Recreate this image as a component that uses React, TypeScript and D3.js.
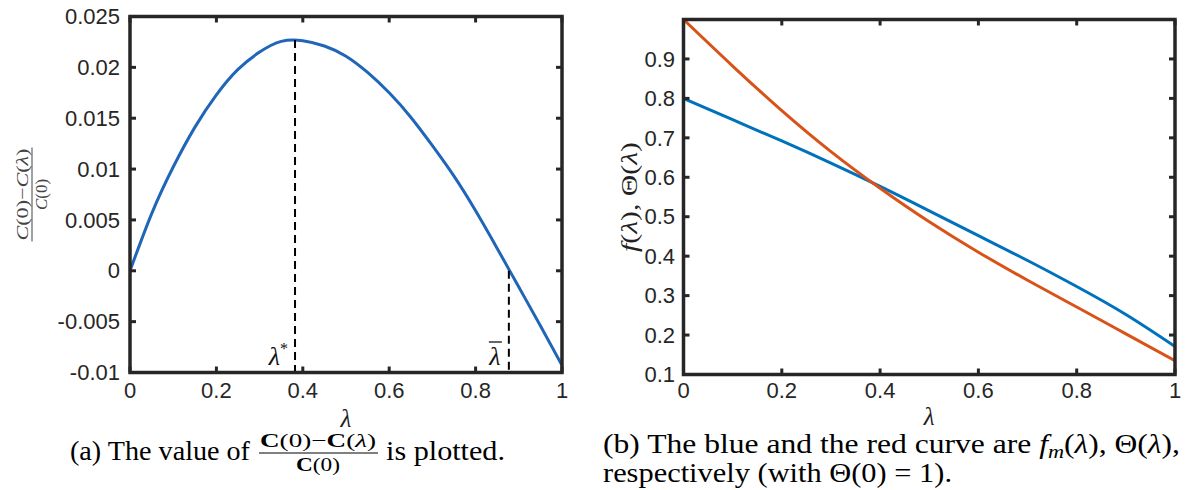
import React from "react";
import * as d3 from "d3";

// ---------- data ----------
// Panel (a): relative cost reduction (C(0) - C(λ)) / C(0)
const lambdaA = [0, 0.05, 0.1, 0.15, 0.2, 0.25, 0.3, 0.35, 0.4, 0.45, 0.5, 0.55, 0.6, 0.65, 0.7, 0.75, 0.8, 0.85, 0.9, 0.95, 1.0];
const gainA = [0, 0.0056, 0.0102, 0.0141, 0.0173, 0.0198, 0.0215, 0.02255, 0.02262, 0.0221, 0.0211, 0.0195, 0.0175, 0.0151, 0.0123, 0.0093, 0.0059, 0.0022, -0.0016, -0.0054, -0.0093];
const lambdaStar = 0.382;
const lambdaStarValue = 0.0227;
const lambdaBar = 0.877;
const yTicksA = [-0.01, -0.005, 0, 0.005, 0.01, 0.015, 0.02, 0.025];
const yTickLabelsA = ["-0.01", "-0.005", "0", "0.005", "0.01", "0.015", "0.02", "0.025"];
const xTicks = [0, 0.2, 0.4, 0.6, 0.8, 1];
const xTickLabels = ["0", "0.2", "0.4", "0.6", "0.8", "1"];

// Panel (b): f_m(λ) (blue) and Θ(λ) (red)
const lambdaB = [0, 0.1, 0.2, 0.3, 0.4, 0.5, 0.6, 0.7, 0.8, 0.9, 1.0];
const fValues = [0.8, 0.746, 0.692, 0.636, 0.577, 0.515, 0.452, 0.389, 0.323, 0.252, 0.171];
const thetaValues = [1.0, 0.882, 0.769, 0.665, 0.572, 0.487, 0.41, 0.339, 0.271, 0.203, 0.135];
const yTicksB = [0.1, 0.2, 0.3, 0.4, 0.5, 0.6, 0.7, 0.8, 0.9];
const yTickLabelsB = ["0.1", "0.2", "0.3", "0.4", "0.5", "0.6", "0.7", "0.8", "0.9"];

// ---------- styling ----------
const AXIS = "#262626";
const BLUE_A = "#1f66b8";
const BLUE = "#0072BD";
const RED = "#D95319";
const SANS = "'Liberation Sans', Arial, Helvetica, sans-serif";
const SERIF = "'Liberation Serif', 'Times New Roman', serif";
const TICK_FS = 22;
const TICK_LEN = 6;
const CAP_FS = 27;

function Frame({ x, y, xTickVals, yTickVals }: any) {
  const [x0, x1] = x.range();
  const [yb, yt] = y.range();
  return (
    <g>
      {xTickVals.map((v: number, i: number) => (
        <g key={"xt" + i}>
          <line x1={x(v)} x2={x(v)} y1={yb} y2={yb - TICK_LEN} stroke={AXIS} strokeWidth={3} />
          <line x1={x(v)} x2={x(v)} y1={yt} y2={yt + TICK_LEN} stroke={AXIS} strokeWidth={3} />
        </g>
      ))}
      {yTickVals.map((v: number, i: number) => (
        <g key={"yt" + i}>
          <line x1={x0} x2={x0 + TICK_LEN} y1={y(v)} y2={y(v)} stroke={AXIS} strokeWidth={3} />
          <line x1={x1} x2={x1 - TICK_LEN} y1={y(v)} y2={y(v)} stroke={AXIS} strokeWidth={3} />
        </g>
      ))}
      <rect x={x0} y={yt} width={x1 - x0} height={yb - yt} fill="none" stroke={AXIS} strokeWidth={3.5} />
    </g>
  );
}

export default function App() {
  // Panel (a) scales
  const xA = d3.scaleLinear().domain([0, 1]).range([130, 562]);
  const yA = d3.scaleLinear().domain([-0.01, 0.025]).range([372.5, 16.5]);
  const lineA = d3
    .line<number>()
    .x((_, i) => xA(lambdaA[i]))
    .y((d) => yA(d))
    .curve(d3.curveNatural);

  // Panel (b) scales
  const xB = d3.scaleLinear().domain([0, 1]).range([683.5, 1175]);
  const yB = d3.scaleLinear().domain([0.1, 1.0]).range([374.5, 19.5]);
  const lineB = d3
    .line<number>()
    .x((_, i) => xB(lambdaB[i]))
    .y((d) => yB(d))
    .curve(d3.curveNatural);

  return (
    <svg
      width={1185}
      height={490}
      style={{ position: "absolute", left: 0, top: 0, background: "#fff" }}
    >
      <rect x={0} y={0} width={1185} height={490} fill="#fff" />
      <defs>
        <clipPath id="clipA">
          <rect x={130} y={16.5} width={432} height={356} />
        </clipPath>
        <clipPath id="clipB">
          <rect x={683.5} y={19.5} width={491.5} height={355} />
        </clipPath>
      </defs>

      {/* ---------------- Panel (a) ---------------- */}
      <g clipPath="url(#clipA)">
        <path d={lineA(gainA) || ""} fill="none" stroke={BLUE_A} strokeWidth={3} />
      </g>
      <line
        x1={xA(lambdaStar)}
        x2={xA(lambdaStar)}
        y1={yA(lambdaStarValue)}
        y2={yA(-0.01)}
        stroke="#000"
        strokeWidth={2}
        strokeDasharray="8,5"
      />
      <line
        x1={xA(lambdaBar)}
        x2={xA(lambdaBar)}
        y1={yA(0)}
        y2={yA(-0.01)}
        stroke="#000"
        strokeWidth={2}
        strokeDasharray="8,5"
      />
      <Frame x={xA} y={yA} xTickVals={xTicks} yTickVals={yTicksA} />
      {yTicksA.map((v, i) => (
        <text key={"yla" + i} x={120} y={yA(v)} dy="0.35em" textAnchor="end" fontFamily={SANS} fontSize={TICK_FS} fill={AXIS}>
          {yTickLabelsA[i]}
        </text>
      ))}
      {xTicks.map((v, i) => (
        <text key={"xla" + i} x={xA(v)} y={398} textAnchor="middle" fontFamily={SANS} fontSize={TICK_FS} fill={AXIS}>
          {xTickLabels[i]}
        </text>
      ))}
      {/* λ* and λ̄ annotations */}
      <text x={xA(lambdaStar) - 7} y={365} textAnchor="end" fontFamily={SERIF} fontSize={26} fill="#111">
        <tspan fontStyle="italic">λ</tspan>
        <tspan fontSize={16} dy={-11}>*</tspan>
      </text>
      <text x={xA(lambdaBar) - 14} y={365} textAnchor="middle" fontFamily={SERIF} fontSize={26} fontStyle="italic" fill="#111">
        λ
      </text>
      <line x1={xA(lambdaBar) - 20} x2={xA(lambdaBar) - 7} y1={342} y2={342} stroke="#111" strokeWidth={1.3} />
      {/* x label */}
      <text x={(xA(0) + xA(1)) / 2} y={427} textAnchor="middle" fontFamily={SERIF} fontSize={25} fontStyle="italic" fill="#222">
        λ
      </text>
      {/* y label (fraction, rotated) */}
      <g transform={`translate(32, ${(yA(-0.01) + yA(0.025)) / 2}) rotate(-90)`}>
        <text x={0} y={-4} textAnchor="middle" fontFamily={SERIF} fontSize={17} fill="#444" textLength={92} lengthAdjust="spacingAndGlyphs">
          <tspan fontStyle="italic">C</tspan>(0)−<tspan fontStyle="italic">C</tspan>(<tspan fontStyle="italic">λ</tspan>)
        </text>
        <line x1={-47} x2={47} y1={0} y2={0} stroke="#444" strokeWidth={1} />
        <text x={0} y={15} textAnchor="middle" fontFamily={SERIF} fontSize={17} fill="#444">
          <tspan fontStyle="italic">C</tspan>(0)
        </text>
      </g>

      {/* caption (a) */}
      <text x={70} y={460} fontFamily={SERIF} fontSize={CAP_FS} fill="#000" textLength={180} lengthAdjust="spacingAndGlyphs">
        (a) The value of
      </text>
      <text x={318} y={447} textAnchor="middle" fontFamily={SERIF} fontSize={19} fill="#000" textLength={116} lengthAdjust="spacingAndGlyphs">
        <tspan fontWeight="bold">C</tspan>(0)−<tspan fontWeight="bold">C</tspan>(<tspan fontStyle="italic">λ</tspan>)
      </text>
      <line x1={259} x2={378} y1={453} y2={453} stroke="#000" strokeWidth={1} />
      <text x={318} y={471} textAnchor="middle" fontFamily={SERIF} fontSize={19} fill="#000" textLength={44} lengthAdjust="spacingAndGlyphs">
        <tspan fontWeight="bold">C</tspan>(0)
      </text>
      <text x={386} y={460} fontFamily={SERIF} fontSize={CAP_FS} fill="#000" textLength={119} lengthAdjust="spacingAndGlyphs">
        is plotted.
      </text>

      {/* ---------------- Panel (b) ---------------- */}
      <g clipPath="url(#clipB)">
        <path d={lineB(fValues) || ""} fill="none" stroke={BLUE} strokeWidth={3} />
        <path d={lineB(thetaValues) || ""} fill="none" stroke={RED} strokeWidth={3} />
      </g>
      <Frame x={xB} y={yB} xTickVals={xTicks} yTickVals={yTicksB} />
      {yTicksB.map((v, i) => (
        <text key={"ylb" + i} x={675} y={yB(v)} dy="0.35em" textAnchor="end" fontFamily={SANS} fontSize={TICK_FS} fill={AXIS}>
          {yTickLabelsB[i]}
        </text>
      ))}
      {xTicks.map((v, i) => (
        <text key={"xlb" + i} x={xB(v)} y={398} textAnchor="middle" fontFamily={SANS} fontSize={TICK_FS} fill={AXIS}>
          {xTickLabels[i]}
        </text>
      ))}
      <text x={(xB(0) + xB(1)) / 2} y={425} textAnchor="middle" fontFamily={SERIF} fontSize={25} fontStyle="italic" fill="#222">
        λ
      </text>
      <g transform={`translate(637, ${(yB(0.1) + yB(1.0)) / 2}) rotate(-90)`}>
        <text x={0} y={0} textAnchor="middle" fontFamily={SERIF} fontSize={24} fill="#222" textLength={110} lengthAdjust="spacingAndGlyphs">
          <tspan fontStyle="italic">f</tspan>(<tspan fontStyle="italic">λ</tspan>), Θ(<tspan fontStyle="italic">λ</tspan>)
        </text>
      </g>

      {/* caption (b) */}
      <text x={603} y={453} fontFamily={SERIF} fontSize={CAP_FS} fill="#000" textLength={577} lengthAdjust="spacingAndGlyphs">
        (b) The blue and the red curve are <tspan fontStyle="italic">f</tspan>
        <tspan fontStyle="italic" fontSize={19} dy={5}>m</tspan>
        <tspan dy={-5}>(</tspan>
        <tspan fontStyle="italic">λ</tspan>), Θ(<tspan fontStyle="italic">λ</tspan>),
      </text>
      <text x={603} y={482} fontFamily={SERIF} fontSize={CAP_FS} fill="#000" textLength={349} lengthAdjust="spacingAndGlyphs">
        respectively (with Θ(0) = 1).
      </text>
    </svg>
  );
}
